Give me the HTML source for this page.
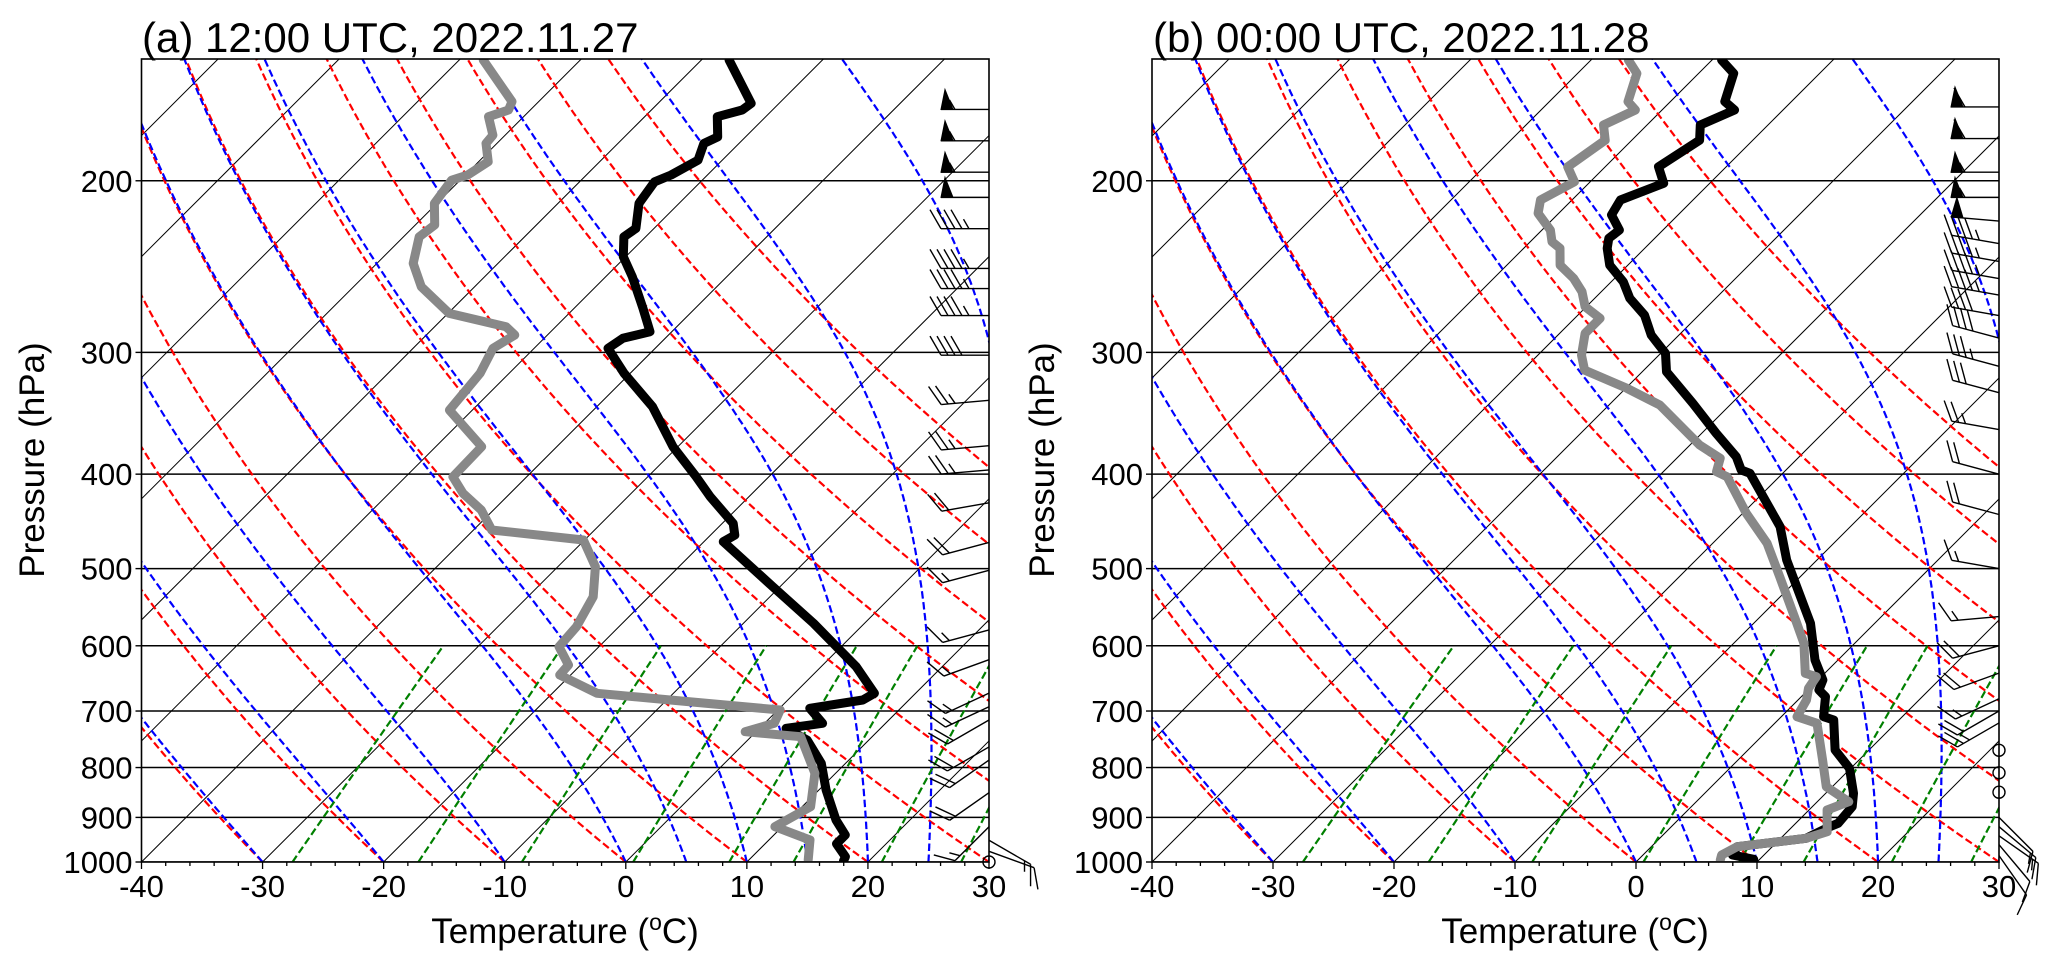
<!DOCTYPE html>
<html><head><meta charset="utf-8"><title>Skew-T soundings</title>
<style>
html,body{margin:0;padding:0;background:#fff;}
svg{display:block;font-family:"Liberation Sans",Arial,sans-serif;}
</style></head>
<body>
<svg id="chart" xmlns="http://www.w3.org/2000/svg" width="2067" height="963" viewBox="0 0 2067 963">
<rect x="0" y="0" width="2067" height="963" fill="#fff"/>
<defs>
<clipPath id="clipA"><rect x="141.5" y="59" width="847.5" height="803"/></clipPath>
<clipPath id="clipB"><rect x="1152" y="59" width="847" height="803"/></clipPath>
</defs>
<g id="panelA"></g>
<g id="panelB"></g>
<text x="142" y="52" font-size="42" fill="#000">(a) 12:00 UTC, 2022.11.27</text>
<text x="1153" y="52" font-size="42" fill="#000">(b) 00:00 UTC, 2022.11.28</text>
<text x="565" y="943" font-size="35" text-anchor="middle">Temperature (<tspan font-size="23" dy="-13">o</tspan><tspan dy="13">C)</tspan></text>
<text x="1575" y="943" font-size="35" text-anchor="middle">Temperature (<tspan font-size="23" dy="-13">o</tspan><tspan dy="13">C)</tspan></text>
<text x="0" y="0" font-size="35" text-anchor="middle" transform="translate(44,460) rotate(-90)">Pressure (hPa)</text>
<text x="0" y="0" font-size="35" text-anchor="middle" transform="translate(1054,460) rotate(-90)">Pressure (hPa)</text>
</svg>
<script>
// ---- data: panel (a) 12:00 UTC 2022.11.27 ----
const tempPresA = [150.4,166.6,169.2,171.9,180.3,183.1,190.5,197.3,200.5,211.0,223.8,228.3,239.3,250.9,270.4,285.7,290.2,297.1,315.2,341.1,374.9,402.5,421.9,449.3,461.9,469.2,521.8,569.0,630.4,671.3,682.0,695.5,720.6,729.2,749.6,792.0,843.6,905.6,938.2,957.8,987.6,997.6];
const tempA = [-57.7,-52.3,-52.5,-54.0,-52.3,-52.9,-52.0,-53.0,-53.8,-53.3,-51.5,-51.8,-50.2,-47.8,-44.3,-41.8,-43.5,-43.9,-40.5,-35.4,-30.4,-26.0,-23.2,-19.1,-18.0,-18.4,-10.6,-4.2,2.9,6.6,6.2,2.5,4.8,2.2,4.9,8.0,10.6,13.9,15.9,15.9,17.7,17.9];
const dewPresA = [150.4,165.9,169.2,171.9,179.6,183.1,191.2,197.3,199.7,211.0,222.0,228.3,243.1,256.9,273.6,282.3,287.9,297.1,315.2,343.8,374.9,402.5,418.5,435.4,456.4,467.3,497.8,534.4,573.6,601.3,627.9,642.9,671.3,682.0,698.3,720.6,735.1,743.8,811.0,877.6,920.0,949.3,995.3];
const dewA = [-78.0,-72.2,-71.8,-72.9,-71.0,-70.9,-69.2,-69.8,-70.7,-70.2,-68.4,-68.7,-67.0,-64.4,-59.9,-54.1,-52.7,-53.4,-52.4,-51.9,-46.2,-46.1,-43.9,-41.0,-38.5,-30.1,-26.9,-24.6,-23.5,-23.3,-21.0,-20.9,-16.3,-9.7,0.2,0.8,-0.9,4.1,8.3,10.7,9.4,13.4,14.9];
const windPresA = [169,182,196,208,224,246,258,275,302,336,374,396,428,470,502,578,620,671,693,715,762,786,849,920,950,975,1000];
const windSpdA = [55,55,55,50,45,45,45,45,40,25,25,25,20,20,15,15,15,15,15,20,20,20,20,15,15,10,0];
const windDirA = [270,270,270,270,270,270,270,270,270,265,265,265,260,255,255,255,250,245,245,240,240,235,235,225,120,110,0];
// ---- data: panel (b) 00:00 UTC 2022.11.28 ----
const tempPresB = [150.4,155.2,165.9,169.2,175.3,181.7,193.5,201.2,209.3,216.8,224.7,229.1,234.6,244.1,253.9,264.0,274.7,287.9,300.7,314.0,338.4,363.2,383.9,396.1,399.2,452.9,490.0,569.0,620.5,650.5,666.1,676.7,709.5,715.0,767.5,801.4,850.2,877.6,912.6,920.0,945.6,964.5,983.6,993.6];
const tempB = [-59.2,-57.1,-55.5,-54.0,-55.6,-54.4,-55.6,-53.8,-56.0,-55.5,-53.6,-53.8,-53.1,-51.5,-49.0,-47.1,-44.5,-42.3,-39.6,-38.0,-33.2,-28.8,-25.2,-23.7,-22.7,-15.8,-12.5,-5.3,-1.9,0.4,0.9,2.0,3.5,4.6,7.2,9.9,12.3,13.3,13.5,13.1,12.1,7.1,7.4,9.5];
const dewPresB = [150.4,155.2,165.9,169.2,175.3,181.7,193.5,200.5,209.3,216.0,224.7,231.0,234.6,244.1,251.8,259.9,269.3,276.8,286.8,301.9,312.8,326.6,339.7,373.4,385.3,397.7,402.5,438.8,471.0,509.7,562.3,596.5,640.3,645.5,663.4,682.0,709.5,720.6,786.0,837.0,867.2,884.4,930.9,945.6,964.5,983.6,995.3];
const dewB = [-66.9,-65.1,-63.5,-62.2,-63.6,-62.2,-63.1,-61.3,-62.6,-61.7,-59.3,-58.2,-57.0,-55.6,-53.4,-51.6,-50.1,-47.9,-47.9,-46.4,-44.9,-39.9,-35.8,-29.2,-26.4,-25.6,-24.3,-19.7,-15.5,-11.7,-7.0,-4.2,-1.6,-0.4,-0.1,0.7,1.3,3.5,7.0,9.5,12.6,11.5,13.3,12.1,7.1,6.5,6.8];
const windPresB = [168,181,196,208,220,232,242,252,262,275,290,310,330,360,400,440,500,560,600,640,680,700,720,768,810,848,900,920,940,960,985];
const windSpdB = [60,60,55,55,50,45,45,45,45,40,40,35,30,25,20,20,15,15,20,20,15,20,25,0,0,0,10,15,15,10,10];
const windDirB = [270,270,270,270,275,280,280,280,280,280,285,285,285,280,285,285,280,265,255,250,245,240,240,0,0,0,135,130,125,140,145];
// ---- background line sets ----
const isobarLevels = [200,300,400,500,600,700,800,900,1000];
const xTickLabels = [-40,-30,-20,-10,0,10,20,30];
const dryAdiabatT0 = [-30,-20,-10,0,10,20,30,40,50,60,70,80];
const moistAdiabatT0 = [-50,-40,-30,-20,-10,0,5,10,15,20,25,30,35];
const mixingRatios = [0.0004,0.001,0.002,0.004,0.007,0.01,0.016,0.024,0.032];

const NS = 'http://www.w3.org/2000/svg';
const yT = 59, yB = 862, kLog = (yB - yT) / Math.log(1000 / 150);
function yP(p){ return yB - kLog * Math.log(1000 / p); }
function mk(tag, attrs, parent){
  const e = document.createElementNS(NS, tag);
  for (const a in attrs) e.setAttribute(a, attrs[a]);
  parent.appendChild(e);
  return e;
}
function polyPts(arr){ return arr.map(q => q[0].toFixed(1) + ',' + q[1].toFixed(1)).join(' '); }

function esat(Tc){ return 6.112 * Math.exp(17.67 * Tc / (Tc + 243.5)); }
function moistRate(p, TK){
  const Rd = 287.04, Cp = 1005.7, Lv = 2.501e6, eps = 0.622;
  const es = esat(TK - 273.15), rs = eps * es / (p - es);
  return (1 / p) * (Rd * TK + Lv * rs) / (Cp + (Lv * Lv * rs * eps / (Rd * TK * TK)));
}
function moistProfile(T0){
  const out = [];
  let TK = T0 + 273.15, p = 1000; const dp = -2;
  out.push([p, TK - 273.15]);
  while (p > 150) {
    const k1 = moistRate(p, TK), k2 = moistRate(p + dp/2, TK + dp/2*k1),
          k3 = moistRate(p + dp/2, TK + dp/2*k2), k4 = moistRate(p + dp, TK + dp*k3);
    TK += dp/6 * (k1 + 2*k2 + 2*k3 + k4); p += dp;
    out.push([p, TK - 273.15]);
  }
  return out;
}

function drawPanel(gid, clipId, xL, xR, d){
  const g = document.getElementById(gid);
  const s = (xR - xL) / 70;
  const xT = (T, p) => xL + (T + 40) * s + (yB - yP(p));
  const clipped = mk('g', {'clip-path': 'url(#' + clipId + ')'}, g);
  
  
  for (let T = -170; T <= 30; T += 10) {
    const l = mk('line', {x1: xT(T,1000), y1: yB, x2: xT(T,150), y2: yT, stroke: '#000', 'stroke-width': 1}, clipped);
    
    
  }
  isobarLevels.forEach(p => {
    const l = mk('line', {x1: xL, y1: yP(p), x2: xR, y2: yP(p), stroke: '#000', 'stroke-width': 1.5}, clipped);
    
    
  });
  dryAdiabatT0.forEach(t0 => {
    const pts = [];
    for (let p = 1000; p >= 148; p -= 5) pts.push([xT((t0 + 273.15) * Math.pow(p/1000, 0.2857) - 273.15, p), yP(p)]);
    const l = mk('polyline', {points: polyPts(pts), fill: 'none', stroke: '#ff0000', 'stroke-width': 2.2, 'stroke-dasharray': '7.5,3.5'}, clipped);
    
    
  });
  moistAdiabatT0.forEach(t0 => {
    const pts = moistProfile(t0).map(q => [xT(q[1], q[0]), yP(q[0])]);
    const l = mk('polyline', {points: polyPts(pts), fill: 'none', stroke: '#0000ff', 'stroke-width': 2.2, 'stroke-dasharray': '7.5,3.5'}, clipped);
    
    
  });
  mixingRatios.forEach(w => {
    const pts = [];
    for (let p = 1000; p >= 600; p -= 10) {
      const e = w * p / (0.622 + w), L = Math.log(e / 6.112);
      pts.push([xT(243.5 * L / (17.67 - L), p), yP(p)]);
    }
    const l = mk('polyline', {points: polyPts(pts), fill: 'none', stroke: '#008000', 'stroke-width': 2.2, 'stroke-dasharray': '7.5,3.5'}, clipped);
    
    
  });
  const tl = mk('polyline', {points: polyPts(d.tp.map((p,i) => [xT(d.t[i], p), yP(p)])), fill: 'none', stroke: '#000', 'stroke-width': 9, 'stroke-linejoin': 'round', 'stroke-linecap': 'round'}, clipped);
  
  
  const dl = mk('polyline', {points: polyPts(d.dp.map((p,i) => [xT(d.td[i], p), yP(p)])), fill: 'none', stroke: '#888', 'stroke-width': 9, 'stroke-linejoin': 'round', 'stroke-linecap': 'round'}, clipped);
  
  
  const fr = mk('rect', {x: xL, y: yT, width: xR - xL, height: yB - yT, fill: 'none', stroke: '#000', 'stroke-width': 1.6}, g);
  
  
  isobarLevels.forEach(p => {
    const t = mk('line', {x1: xL - 6, y1: yP(p), x2: xL, y2: yP(p), stroke: '#000', 'stroke-width': 1.4}, g);
    
    
    const lb = mk('text', {x: xL - 9, y: yP(p) + 11, 'font-size': 31, 'text-anchor': 'end'}, g);
    lb.textContent = String(p);
    
    
  });
  for (let T = -40; T <= 30; T += 2) {
    const major = (T % 10 === 0);
    const t = mk('line', {x1: xT(T,1000), y1: yB, x2: xT(T,1000), y2: yB + (major ? 7 : 4), stroke: '#000', 'stroke-width': 1.3}, g);
    
    
  }
  xTickLabels.forEach(T => {
    const lb = mk('text', {x: xT(T,1000), y: 897, 'font-size': 31, 'text-anchor': 'middle'}, g);
    lb.textContent = String(T);
    
    
  });
  const bg = mk('g', {}, g);
  
  
  d.wp.forEach((p, i) => drawBarb(bg, xR, yP(p), d.ws[i], d.wd[i]));
}

function drawBarb(g, x0, y0, spd, dir){
  if (spd < 2.5) {
    const c = mk('circle', {cx: x0, cy: y0, r: 6, fill: 'none', stroke: '#000', 'stroke-width': 1.4}, g);
    
    
    return;
  }
  const rad = dir * Math.PI / 180, sx = Math.sin(rad), sy = -Math.cos(rad);
  const L = 48, FL = 22;
  const tx = x0 + sx * L, ty = y0 + sy * L;
  const c60 = 0.5, s60 = 0.866;
  const fx = c60 * sx - s60 * sy, fy = s60 * sx + c60 * sy;
  const px = -sy, py = sx;
  const P = dd => [tx - sx * dd, ty - sy * dd];
  const st = mk('line', {x1: x0, y1: y0, x2: tx, y2: ty, stroke: '#000', 'stroke-width': 1.4}, g);
  
  
  let nf = Math.floor(spd / 50), rem = spd - nf * 50;
  let nfull = Math.floor(rem / 10), nhalf = Math.round((rem - nfull * 10) / 5);
  let pos = 0;
  for (let k = 0; k < nf; k++) {
    const a = P(pos), b = P(pos + 12), ap = P(pos + 4);
    const tri = mk('polygon', {points: polyPts([a, [ap[0] + px * 20, ap[1] + py * 20], b]), fill: '#000', stroke: '#000', 'stroke-width': 1}, g);
    
    
    pos += 14;
  }
  for (let k = 0; k < nfull; k++) {
    const a = P(pos);
    const f = mk('line', {x1: a[0], y1: a[1], x2: a[0] + fx * FL, y2: a[1] + fy * FL, stroke: '#000', 'stroke-width': 1.4}, g);
    
    
    pos += 7;
  }
  if (nhalf > 0) {
    if (pos === 0) pos = 7;
    const a = P(pos);
    const f = mk('line', {x1: a[0], y1: a[1], x2: a[0] + fx * FL / 2, y2: a[1] + fy * FL / 2, stroke: '#000', 'stroke-width': 1.4}, g);
    
    
  }
}

drawPanel('panelA', 'clipA', 141.5, 989, {tp: tempPresA, t: tempA, dp: dewPresA, td: dewA, wp: windPresA, ws: windSpdA, wd: windDirA});
drawPanel('panelB', 'clipB', 1152, 1999, {tp: tempPresB, t: tempB, dp: dewPresB, td: dewB, wp: windPresB, ws: windSpdB, wd: windDirB});
</script>
</body></html>
